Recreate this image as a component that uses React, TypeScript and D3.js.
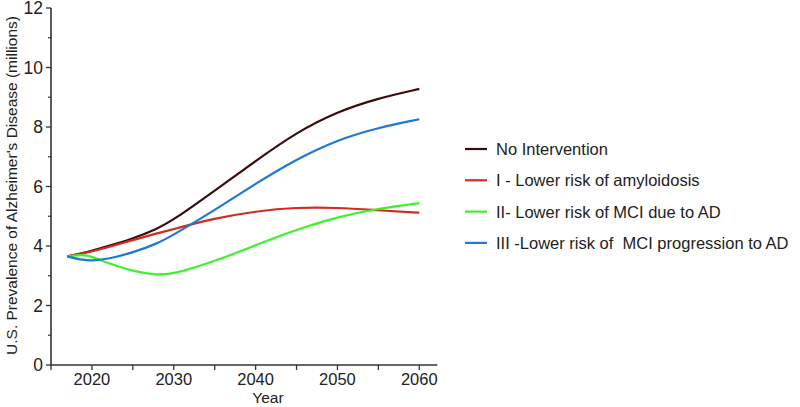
import React, { useEffect, useRef } from 'react';
import * as d3 from 'd3';

const years = [2017, 2019, 2020, 2022, 2025, 2028, 2030, 2035, 2040, 2045, 2050, 2055, 2060];
const noIntervention = [3.65, 3.77, 3.84, 4.0, 4.25, 4.58, 4.88, 5.86, 6.86, 7.82, 8.52, 8.97, 9.28];
const lowerAmyloid = [3.65, 3.76, 3.82, 3.96, 4.2, 4.43, 4.57, 4.93, 5.17, 5.3, 5.29, 5.2, 5.12];
const lowerMci = [3.65, 3.72, 3.64, 3.42, 3.15, 3.02, 3.06, 3.48, 4.03, 4.55, 4.98, 5.26, 5.44];
const lowerProgression = [3.65, 3.52, 3.51, 3.56, 3.78, 4.08, 4.38, 5.2, 6.1, 6.92, 7.57, 7.98, 8.26];

const seriesNames = [
  'No Intervention',
  'I - Lower risk of amyloidosis',
  'II- Lower risk of MCI due to AD',
  'III -Lower risk of  MCI progression to AD',
];
const seriesColors = ['#3a0d0d', '#d42a1f', '#3ff02a', '#1f78d6'];
const seriesValues = [noIntervention, lowerAmyloid, lowerMci, lowerProgression];

const xTicks = [2020, 2030, 2040, 2050, 2060];
const xMinorTicks = [2015, 2025, 2035, 2045, 2055];
const yTicks = [0, 2, 4, 6, 8, 10, 12];
const yMinorTicks = [1, 3, 5, 7, 9, 11];

const W = 800;
const H = 407;

const App: React.FC = () => {
  const ref = useRef<SVGSVGElement>(null);

  useEffect(() => {
    const svg = d3.select(ref.current);
    svg.selectAll('*').remove();

    const x = d3.scaleLinear().domain([2015, 2060]).range([51, 419.3]);
    const y = d3.scaleLinear().domain([0, 12]).range([365, 8]);
    const axisColor = '#333';
    const font = 'Liberation Sans, Arial, sans-serif';

    // x axis
    const gx = svg.append('g').attr('transform', `translate(0,${y(0)})`);
    gx.append('line')
      .attr('x1', x(2015)).attr('x2', x(2062.2))
      .attr('stroke', axisColor).attr('stroke-width', 1.6);
    gx.selectAll('.xt')
      .data(xTicks.concat(xMinorTicks))
      .enter().append('line')
      .attr('x1', (d) => x(d)).attr('x2', (d) => x(d))
      .attr('y1', 0).attr('y2', 5)
      .attr('stroke', axisColor).attr('stroke-width', 1.3);
    gx.selectAll('.xl')
      .data(xTicks)
      .enter().append('text')
      .attr('x', (d) => x(d)).attr('y', 20)
      .attr('text-anchor', 'middle')
      .attr('font-family', font).attr('font-size', 16.5)
      .attr('fill', '#222')
      .text((d) => d);

    // y axis
    const gy = svg.append('g').attr('transform', `translate(${x(2015)},0)`);
    gy.append('line')
      .attr('y1', y(0)).attr('y2', y(12))
      .attr('stroke', axisColor).attr('stroke-width', 1.6);
    gy.selectAll('.yt')
      .data(yTicks)
      .enter().append('line')
      .attr('y1', (d) => y(d)).attr('y2', (d) => y(d))
      .attr('x1', 0).attr('x2', -5)
      .attr('stroke', axisColor).attr('stroke-width', 1.3);
    gy.selectAll('.ym')
      .data(yMinorTicks)
      .enter().append('line')
      .attr('y1', (d) => y(d)).attr('y2', (d) => y(d))
      .attr('x1', 0).attr('x2', -3)
      .attr('stroke', axisColor).attr('stroke-width', 1.2);
    gy.selectAll('.yl')
      .data(yTicks)
      .enter().append('text')
      .attr('x', -8).attr('y', (d) => y(d) + 6.3)
      .attr('text-anchor', 'end')
      .attr('font-family', font).attr('font-size', 17.5)
      .attr('fill', '#222')
      .text((d) => d);

    // axis titles
    svg.append('text')
      .attr('x', x(2041.5)).attr('y', 403)
      .attr('text-anchor', 'middle')
      .attr('font-family', font).attr('font-size', 15.5)
      .attr('fill', '#222')
      .text('Year');
    svg.append('text')
      .attr('transform', `translate(17,${y(6) - 1}) rotate(-90)`)
      .attr('text-anchor', 'middle')
      .attr('font-family', font).attr('font-size', 15.5)
      .attr('fill', '#222')
      .text("U.S. Prevalence of Alzheimer's Disease (millions)");

    // lines
    const line = d3.line<number>()
      .x((_, i) => x(years[i]))
      .y((d) => y(d))
      .curve(d3.curveBasis);

    seriesValues.forEach((vals, i) => {
      svg.append('path')
        .attr('d', line(vals))
        .attr('fill', 'none')
        .attr('stroke', seriesColors[i])
        .attr('stroke-width', 2.2);
    });

    // legend
    const lg = svg.append('g').attr('transform', 'translate(465,149)');
    seriesNames.forEach((name, i) => {
      const row = lg.append('g').attr('transform', `translate(0,${i * 31.3})`);
      row.append('line')
        .attr('x1', 0).attr('x2', 22)
        .attr('stroke', seriesColors[i]).attr('stroke-width', 2.2);
      row.append('text')
        .attr('x', 31).attr('y', 6)
        .attr('font-family', font).attr('font-size', 16.5)
        .attr('fill', '#222')
        .style('white-space', 'pre')
        .text(name);
    });
  }, []);

  return (
    <svg
      ref={ref}
      width={W}
      height={H}
      style={{ position: 'absolute', top: 0, left: 0, background: '#fff' }}
    />
  );
};

export default App;
